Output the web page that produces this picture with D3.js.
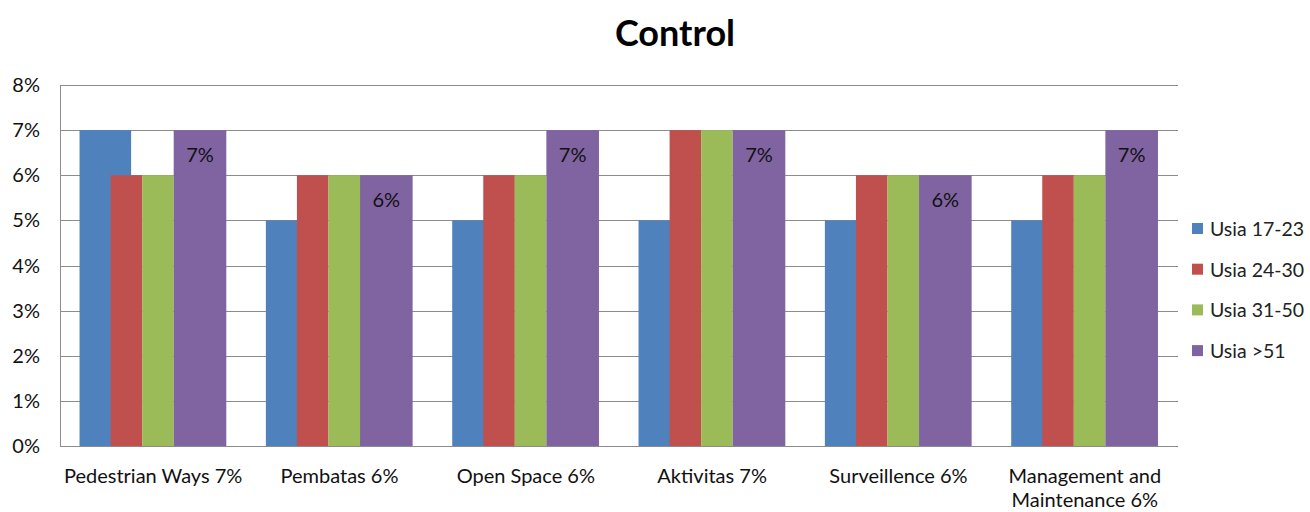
<!DOCTYPE html>
<html>
<head>
<meta charset="utf-8">
<script src="https://cdn.jsdelivr.net/npm/d3@7"></script>
<style>
  body { margin: 0; background: #fff; }
  text { font-family: Lato, "Open Sans", sans-serif; }
</style>
</head>
<body>
<div id="chart"></div>
<script>
var categories = [["Pedestrian Ways 7%"], ["Pembatas 6%"], ["Open Space 6%"], ["Aktivitas 7%"], ["Surveillence 6%"], ["Management and", "Maintenance 6%"]];
var seriesNames = ["Usia 17-23", "Usia 24-30", "Usia 31-50", "Usia >51"];
var usia1723 = [7, 5, 5, 5, 5, 5];
var usia2430 = [6, 6, 6, 7, 6, 6];
var usia3150 = [6, 6, 6, 7, 6, 6];
var usia51 = [7, 6, 7, 7, 6, 7];
var purpleLabels = ["7%", "6%", "7%", "7%", "6%", "7%"];
var yTicks = [0, 1, 2, 3, 4, 5, 6, 7, 8];

var colors = ["#4F81BD", "#C0504D", "#9BBB59", "#8064A2"];
var seriesValues = [usia1723, usia2430, usia3150, usia51];

var width = 1310, height = 512,
    margin = { top: 85, right: 132, bottom: 66, left: 60 };

var svg = d3.select("#chart").append("svg")
    .attr("width", width)
    .attr("height", height);

var x = d3.scaleBand()
    .domain(d3.range(categories.length))
    .range([margin.left, width - margin.right]);

var y = d3.scaleLinear()
    .domain([0, 8])
    .range([height - margin.bottom, margin.top]);

// bar slots inside one category, in units of a 186-wide band (blue/purple wide, red/green narrow)
var slots = [[19.5, 71], [50.5, 82], [82, 113.5], [113.5, 166]];
var unit = function (v) { return v * x.bandwidth() / 186; };

// gridlines
svg.append("g").selectAll("line")
    .data(yTicks.slice(1))
    .enter().append("line")
    .attr("x1", margin.left)
    .attr("x2", width - margin.right)
    .attr("y1", function (d) { return Math.round(y(d)) + 0.5; })
    .attr("y2", function (d) { return Math.round(y(d)) + 0.5; })
    .attr("stroke", "#8c8c8c")
    .attr("stroke-width", 1);

// bars
seriesValues.forEach(function (vals, s) {
    svg.append("g").selectAll("rect")
        .data(vals)
        .enter().append("rect")
        .attr("x", function (d, i) { return x(i) + unit(slots[s][0]); })
        .attr("width", unit(slots[s][1] - slots[s][0]))
        .attr("y", function (d) { return y(d); })
        .attr("height", function (d) { return y(0) - y(d); })
        .attr("fill", colors[s]);
});

// data labels on purple bars
svg.append("g").selectAll("text")
    .data(usia51)
    .enter().append("text")
    .attr("x", function (d, i) { return x(i) + unit((slots[3][0] + slots[3][1]) / 2); })
    .attr("y", function (d) { return y(d) + 32; })
    .attr("text-anchor", "middle")
    .attr("font-size", 20)
    .attr("fill", "#111")
    .text(function (d, i) { return purpleLabels[i]; });

// axes lines
svg.append("line")
    .attr("x1", margin.left + 0.5).attr("x2", margin.left + 0.5)
    .attr("y1", y(8)).attr("y2", y(0))
    .attr("stroke", "#8c8c8c");
svg.append("line")
    .attr("x1", margin.left).attr("x2", width - margin.right)
    .attr("y1", Math.round(y(0)) + 0.5).attr("y2", Math.round(y(0)) + 0.5)
    .attr("stroke", "#8c8c8c");

// y tick labels
svg.append("g").selectAll("text")
    .data(yTicks)
    .enter().append("text")
    .attr("x", 40)
    .attr("y", function (d) { return y(d) + 7; })
    .attr("text-anchor", "end")
    .attr("font-size", 20)
    .attr("fill", "#111")
    .text(function (d) { return d + "%"; });

// category labels
var catG = svg.append("g").selectAll("text")
    .data(categories)
    .enter().append("text")
    .attr("x", function (d, i) { return x(i) + x.bandwidth() / 2; })
    .attr("y", 483)
    .attr("text-anchor", "middle")
    .attr("font-size", 20)
    .attr("fill", "#111");
catG.selectAll("tspan")
    .data(function (d) { return d; })
    .enter().append("tspan")
    .attr("x", function () { return d3.select(this.parentNode).attr("x"); })
    .attr("dy", function (d, i) { return i === 0 ? 0 : 24; })
    .text(function (d) { return d; });

// title
svg.append("text")
    .attr("x", 675)
    .attr("y", 46)
    .attr("text-anchor", "middle")
    .attr("font-size", 36)
    .attr("font-weight", "bold")
    .attr("fill", "#000")
    .text("Control");

// legend
var legend = svg.append("g").selectAll("g")
    .data(seriesNames)
    .enter().append("g")
    .attr("transform", function (d, i) { return "translate(1192," + (229 + i * 40.7) + ")"; });
legend.append("rect")
    .attr("x", 0).attr("y", -6)
    .attr("width", 11).attr("height", 11)
    .attr("fill", function (d, i) { return colors[i]; });
legend.append("text")
    .attr("x", 18)
    .attr("y", 7)
    .attr("font-size", 19.5)
    .attr("fill", "#222")
    .text(function (d) { return d; });
</script>
</body>
</html>
